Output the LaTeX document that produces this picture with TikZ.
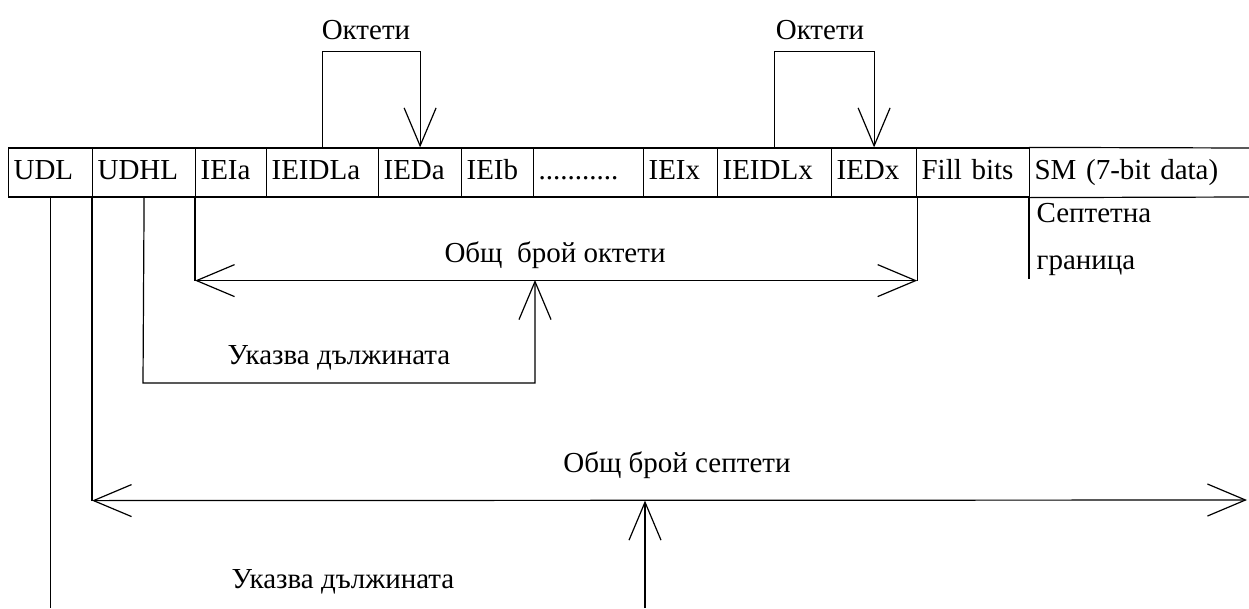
\documentclass[tikz,border=0pt]{standalone}
\usepackage{fontspec}
\setmainfont{Liberation Serif}
\usetikzlibrary{arrows.meta}
\begin{document}
\begin{tikzpicture}[x=1pt,y=-1pt,line width=1.2pt,
  every node/.style={font=\fontsize{29}{35}\selectfont},
  cell/.style={draw,anchor=west,minimum height=49pt,inner xsep=5pt,inner ysep=0pt,align=left,text height=19pt,text depth=6pt},
  lbl/.style={inner sep=0pt},
  barb/.style={-{Straight Barb[length=38pt,width=32pt,line width=1.2pt]}},
  barbs/.style={{Straight Barb[length=38pt,width=32pt,line width=1.2pt]}-{Straight Barb[length=38pt,width=32pt,line width=1.2pt]}}]
\useasboundingbox (0,0) rectangle (1249,608);
% cells
\node[cell,text width=74pt] (udl) at (8,172.5) {UDL};
\node[cell,text width=93pt] (udhl) at (92,172.5) {UDHL};
\node[cell,text width=61pt] (ieia) at (195,172.5) {IEIa};
\node[cell,text width=102pt] (ieidla) at (266,172.5) {IEIDLa};
\node[cell,text width=73pt] (ieda) at (378,172.5) {IEDa};
\node[cell,text width=62pt] (ieib) at (461,172.5) {IEIb};
\node[cell,text width=100pt] (dots) at (533,172.5) {...........};
\node[cell,text width=64pt] (ieix) at (643,172.5) {IEIx};
\node[cell,text width=104pt] (ieidlx) at (717,172.5) {IEIDLx};
\node[cell,text width=75pt] (iedx) at (831,172.5) {IEDx};
\node[cell,text width=103pt] (fill) at (916,172.5) {Fill bits};
\node[cell,draw=none,text width=220pt] (sm) at (1029,172.5) {SM (7-bit data)};
\draw (sm.north west) -- (1249,148) (sm.south west) -- (1249,197);
% octet brackets
\draw[barb] (ieidla.north) -- ++(0,-96) -| (ieda.north);
\node[lbl] (okt1) at (366,30) {Октети};
\draw[barb] (ieidlx.north) -- ++(0,-96) -| (iedx.north);
\node[lbl] (okt2) at (820,30) {Октети};
% septet boundary
\draw (sm.south west) -- ++(0,81);
\node[lbl,anchor=west] (sep1) at (1036,213) {Септетна};
\node[lbl,anchor=west] (sep2) at (1036,266) {граница};
% total octets
\draw (ieia.south west) -- ++(0,83) coordinate (oL);
\draw (iedx.south east) -- ++(0,83) coordinate (oR);
\draw[barbs] (oL) -- (oR);
\node[lbl] (octtot) at (555,255) {Общ\ \ брой октети};
\coordinate (om) at (535,280);
\draw[barb] (udhl.south) -- (143,383) -| (om);
\node[lbl] (ukaz1) at (339,358) {Указва дължината};
% total septets
\draw (udhl.south west) -- ++(0,303) coordinate (sL);
\coordinate (sR) at (1247,500);
\draw[barbs] (sL) -- (sR);
\node[lbl] (septot) at (677,465) {Общ брой септети};
\coordinate (sb) at (645,608);
\draw[barb] (sb) -- (sb |- sL);
\node[lbl] (ukaz2) at (343,582) {Указва дължината};
% UDL line
\draw (udl.south) -- (udl.south |- sb);
\end{tikzpicture}
\end{document}
